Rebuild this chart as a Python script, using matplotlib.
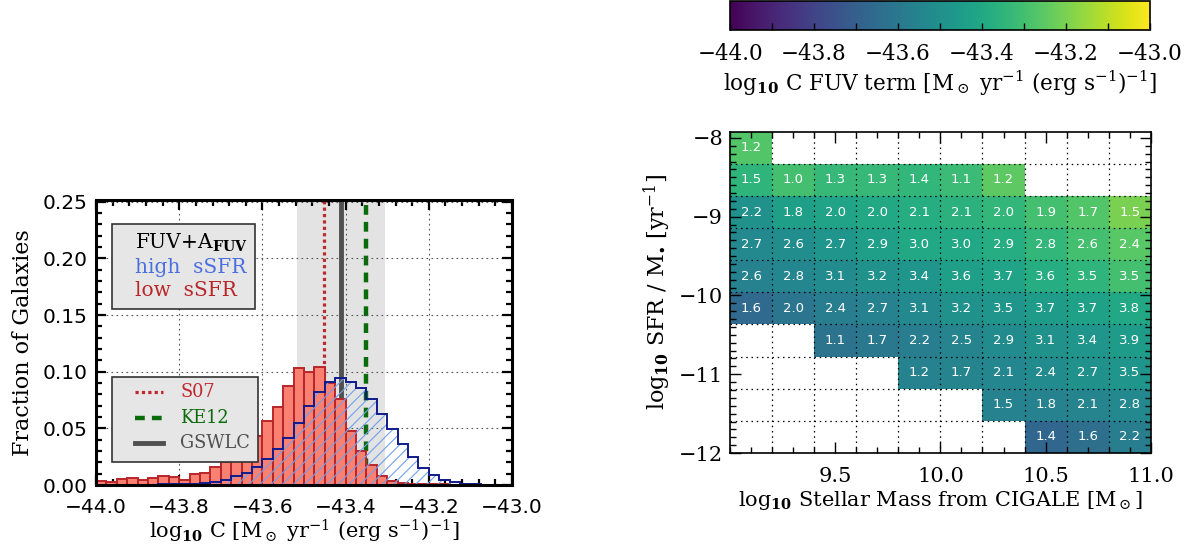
import numpy as np
import matplotlib
matplotlib.use("Agg")
from matplotlib import rcParams
rcParams["font.family"] = "DejaVu Serif"
rcParams["mathtext.fontset"] = "dejavuserif"
import matplotlib.pyplot as plt
from matplotlib.patches import Rectangle
from matplotlib.lines import Line2D
from matplotlib.ticker import MultipleLocator

# ---- left panel: histograms of log10 C (bin width 0.025 from -44 to -43)
bin_edges = np.round(np.linspace(-44.0, -43.0, 41), 4)
low_ssfr = [0.0038, 0.0030, 0.0050, 0.0059, 0.0047, 0.0059, 0.0079, 0.0070,
            0.0044, 0.0097, 0.0109, 0.0155, 0.0199, 0.0260, 0.0340, 0.0432,
            0.0564, 0.0690, 0.0873, 0.1029, 0.0999, 0.1038, 0.0900, 0.0755,
            0.0476, 0.0298, 0.0176, 0.0082, 0.0038, 0.0020, 0.0012, 0.0010,
            0.0008, 0.0006, 0.0004, 0.0003, 0.0002, 0.0001, 0.0000, 0.0000]
high_ssfr = [0.0002, 0.0002, 0.0002, 0.0003, 0.0003, 0.0004, 0.0005, 0.0006,
             0.0008, 0.0012, 0.0018, 0.0028, 0.0047, 0.0076, 0.0108, 0.0158,
             0.0228, 0.0315, 0.0411, 0.0550, 0.0697, 0.0823, 0.0911, 0.0941,
             0.0905, 0.0855, 0.0755, 0.0626, 0.0495, 0.0365, 0.0245, 0.0150,
             0.0085, 0.0047, 0.0024, 0.0012, 0.0007, 0.0004, 0.0002, 0.0001]
c_s07 = -43.451
c_ke12 = -43.351
c_gswlc = -43.411
gswlc_range = (-43.516, -43.306)

# ---- right panel: grid of log10 C FUV term, stellar mass vs sSFR
mass_edges = np.linspace(9.0, 11.0, 11)
ssfr_edges = np.linspace(-12.0, -7.92, 11)
n = np.nan
# rows listed from top (high sSFR) to bottom
cterm_rows = [
    [-43.27, n, n, n, n, n, n, n, n, n],
    [-43.35, -43.30, -43.33, -43.33, -43.34, -43.32, -43.25, n, n, n],
    [-43.50, -43.44, -43.42, -43.40, -43.38, -43.36, -43.34, -43.30, -43.27, -43.20],
    [-43.53, -43.51, -43.48, -43.44, -43.40, -43.40, -43.38, -43.34, -43.30, -43.26],
    [-43.56, -43.54, -43.52, -43.50, -43.48, -43.44, -43.42, -43.38, -43.35, -43.30],
    [-43.66, -43.61, -43.58, -43.56, -43.53, -43.50, -43.48, -43.45, -43.43, -43.40],
    [n, n, -43.62, -43.60, -43.58, -43.55, -43.52, -43.50, -43.48, -43.45],
    [n, n, n, n, -43.56, -43.55, -43.54, -43.52, -43.50, -43.48],
    [n, n, n, n, n, n, -43.56, -43.56, -43.55, -43.53],
    [n, n, n, n, n, n, n, -43.67, -43.64, -43.58],
]
label_rows = [
    [1.2, n, n, n, n, n, n, n, n, n],
    [1.5, 1.0, 1.3, 1.3, 1.4, 1.1, 1.2, n, n, n],
    [2.2, 1.8, 2.0, 2.0, 2.1, 2.1, 2.0, 1.9, 1.7, 1.5],
    [2.7, 2.6, 2.7, 2.9, 3.0, 3.0, 2.9, 2.8, 2.6, 2.4],
    [2.6, 2.8, 3.1, 3.2, 3.4, 3.6, 3.7, 3.6, 3.5, 3.5],
    [1.6, 2.0, 2.4, 2.7, 3.1, 3.2, 3.5, 3.7, 3.7, 3.8],
    [n, n, 1.1, 1.7, 2.2, 2.5, 2.9, 3.1, 3.4, 3.9],
    [n, n, n, n, 1.2, 1.7, 2.1, 2.4, 2.7, 3.5],
    [n, n, n, n, n, n, 1.5, 1.8, 2.1, 2.8],
    [n, n, n, n, n, n, n, 1.4, 1.6, 2.2],
]

unit = r"[M$_\odot$ yr$^{-1}$ (erg s$^{-1}$)$^{-1}$]"
minus_labels = ["\u221244.0", "\u221243.8", "\u221243.6", "\u221243.4",
                "\u221243.2", "\u221243.0"]

fig = plt.figure(figsize=(11.96, 5.54), dpi=100)

# ================= left panel
ax = fig.add_axes([0.0803, 0.1245, 0.3478, 0.5144])
ax.axvspan(gswlc_range[0], gswlc_range[1], color="#e3e3e3", zorder=0, lw=0)
ax.grid(True, which="major", color="#555555", ls=(0, (1.5, 3)), lw=0.8, zorder=0.5)
ax.axvline(c_s07, color="#c0282d", ls=(0, (1, 1)), lw=2.3, zorder=1)
ax.axvline(c_ke12, color="#0a6b0a", ls=(0, (2.2, 1.6)), lw=3.2, zorder=1)
ax.axvline(c_gswlc, color="#505050", lw=3.5, zorder=1)
ax.stairs(low_ssfr, bin_edges, fill=True, facecolor="#fa8072",
          edgecolor="none", zorder=2)
ax.bar(bin_edges[:-1], low_ssfr, width=0.025, align="edge", facecolor="none",
       edgecolor="#b9262a", lw=1.4, zorder=2.1)
rcParams["hatch.linewidth"] = 0.8
ax.stairs(high_ssfr, bin_edges, fill=True, facecolor="none",
          edgecolor="#72a0ec", hatch="///", lw=0, zorder=3)
ax.stairs(high_ssfr, bin_edges, color="#101a8c", lw=1.4, zorder=3.1,
          baseline=None)

ax.set_xlim(-44.0, -43.0)
ax.set_ylim(0.0, 0.2515)
ax.set_xticks(np.arange(-44.0, -42.99, 0.2))
ax.set_xticklabels(minus_labels)
ax.set_yticks([0.0, 0.05, 0.10, 0.15, 0.20, 0.25])
ax.set_yticklabels(["0.00", "0.05", "0.10", "0.15", "0.20", "0.25"])
ax.xaxis.set_minor_locator(MultipleLocator(0.04))
ax.yaxis.set_minor_locator(MultipleLocator(0.01))
ax.tick_params(which="both", direction="in", top=True, right=True, width=1.6)
ax.tick_params(which="major", length=7, labelsize=14.5)
ax.tick_params(axis="x", which="major", pad=9)
ax.tick_params(axis="y", which="major", pad=6)
ax.tick_params(which="minor", length=4)
for lab in ax.get_xticklabels() + ax.get_yticklabels():
    lab.set_family("DejaVu Sans")
for s in ax.spines.values():
    s.set_linewidth(2.2)
    s.set_zorder(5)
ax.set_ylabel("Fraction of Galaxies", fontsize=16, labelpad=6)
ax.set_xlabel(r"log$_{\mathbf{10}}$ C " + unit, fontsize=15, labelpad=1)

# text box: sample
ax.add_patch(Rectangle((0.0377, 0.6175), 0.3443, 0.2985, transform=ax.transAxes,
                       facecolor="#e6e6e6", edgecolor="#333333", lw=1.2, zorder=6))
ax.text(0.094, 0.849, r"FUV+A$_{\mathbf{FUV}}$", transform=ax.transAxes,
        fontsize=14.5, color="black", va="center", zorder=7)
ax.text(0.094, 0.765, "high  sSFR", transform=ax.transAxes, fontsize=14.5,
        color="#4a6fe0", va="center", zorder=7)
ax.text(0.094, 0.684, "low  sSFR", transform=ax.transAxes, fontsize=14.5,
        color="#b9262a", va="center", zorder=7)

# legend box: reference calibrations
ax.add_patch(Rectangle((0.0377, 0.082), 0.3523, 0.298, transform=ax.transAxes,
                       facecolor="#e6e6e6", edgecolor="#333333", lw=1.2, zorder=6))
legend_items = [("S07", "#c0282d", (0, (1, 1)), 2.3),
                ("KE12", "#0a6b0a", (0, (2.2, 1.6)), 3.2),
                ("GSWLC", "#505050", "-", 3.5)]
for (name, col, ls, lw), yy in zip(legend_items, [0.326, 0.235, 0.147]):
    ax.add_line(Line2D([0.094, 0.161], [yy, yy], transform=ax.transAxes,
                       color=col, ls=ls, lw=lw, zorder=7))
    ax.text(0.202, yy, name, transform=ax.transAxes, fontsize=12.8, color=col,
            va="center", zorder=7)

# ================= right panel
cterm = np.ma.masked_invalid(np.array(cterm_rows)[::-1])
labels = np.array(label_rows)[::-1]
axr = fig.add_axes([0.6104, 0.1823, 0.3518, 0.58])
mesh = axr.pcolormesh(mass_edges, ssfr_edges, cterm, cmap="viridis",
                      vmin=-44.0, vmax=-43.0, zorder=1)
xc = 0.5 * (mass_edges[:-1] + mass_edges[1:])
yc = 0.5 * (ssfr_edges[:-1] + ssfr_edges[1:])
for i in range(len(yc)):
    for j in range(len(xc)):
        if np.isfinite(labels[i, j]):
            axr.text(xc[j], yc[i], f"{labels[i, j]:.1f}", color="white",
                     ha="center", va="center", fontsize=9.5,
                     family="DejaVu Sans", zorder=3)
for xe in mass_edges[1:-1]:
    axr.axvline(xe, color="black", ls=(0, (1.2, 3)), lw=0.9, zorder=2)
for ye in ssfr_edges[1:-1]:
    axr.axhline(ye, color="black", ls=(0, (1.2, 3)), lw=0.9, zorder=2)
axr.set_xlim(9.0, 11.0)
axr.set_ylim(-12.0, -7.92)
axr.set_xticks([9.5, 10.0, 10.5, 11.0])
axr.set_yticks([-12, -11, -10, -9, -8])
axr.set_yticklabels(["\u221212", "\u221211", "\u221210", "\u22129", "\u22128"])
axr.xaxis.set_minor_locator(MultipleLocator(0.1))
axr.yaxis.set_minor_locator(MultipleLocator(0.1))
axr.tick_params(which="both", direction="in", top=True, right=True, width=1.0)
axr.tick_params(which="major", length=8, labelsize=15)
axr.tick_params(axis="x", which="major", pad=10)
axr.tick_params(axis="y", which="major", pad=5)
axr.tick_params(which="minor", length=4)
for s in axr.spines.values():
    s.set_linewidth(1.2)
    s.set_zorder(5)
axr.set_xlabel(r"log$_{\mathbf{10}}$ Stellar Mass from CIGALE [M$_\odot$]",
               fontsize=15, labelpad=2)
axr.set_ylabel(r"log$_{\mathbf{10}}$ SFR / M$_{\bullet}$ [yr$^{-1}$]",
               fontsize=16, labelpad=4)

# colorbar
cax = fig.add_axes([0.6104, 0.9458, 0.3512, 0.052])
cb = fig.colorbar(mesh, cax=cax, orientation="horizontal")
cb.set_ticks(np.arange(-44.0, -42.99, 0.2))
cb.set_ticklabels(minus_labels)
cb.ax.xaxis.set_minor_locator(MultipleLocator(0.1))
cb.ax.tick_params(which="both", direction="in", length=5, width=1.0,
                  labelsize=15.5, pad=9, color="black")
cb.outline.set_linewidth(1.2)
cb.set_label(r"log$_{\mathbf{10}}$ C FUV term " + unit, fontsize=15.5,
             labelpad=3)

fig.savefig("out.png", dpi=100)
